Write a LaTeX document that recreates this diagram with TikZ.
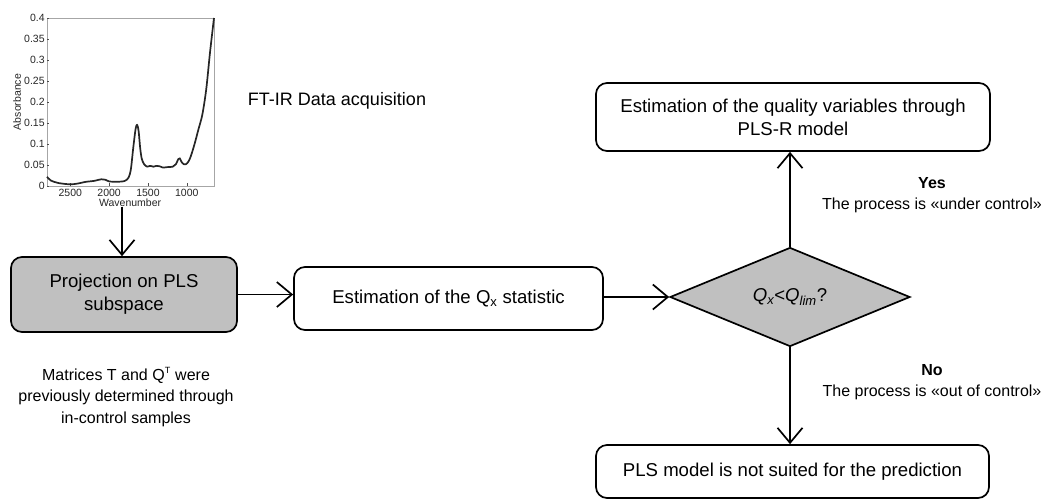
\documentclass[tikz,border=0pt]{standalone}
\usepackage{fontspec}
\setmainfont{Liberation Sans}
\usetikzlibrary{arrows.meta,shapes.geometric}
\definecolor{boxgray}{HTML}{C0C0C0}
\tikzset{
  box/.style={draw=black, line width=1.7pt, rounded corners=11pt, align=center, inner sep=0pt,
    font=\fontsize{18.6}{23}\selectfont},
  arr/.style={line width=1.7pt, -{Straight Barb[length=15pt,width=25pt,line width=1.7pt]}},
  lbl/.style={align=center, font=\fontsize{16}{21.5}\selectfont},
  tick/.style={font=\fontsize{10.5}{12}\selectfont, text=black!85},
}
\begin{document}
\begin{tikzpicture}[x=1pt,y=-1pt]
\useasboundingbox (0,0) rectangle (1043,499);

% ---- spectrum plot ----
\begin{scope}[xshift=47pt, yshift=-186pt, x=0.07767pt, y=420pt]
  \draw[gray!70, line width=0.6pt] (0,0) rectangle (2150,0.4);
  \foreach \v/\l in {0/0,0.05/0.05,0.1/0.1,0.15/0.15,0.2/0.2,0.25/0.25,0.3/0.3,0.35/0.35,0.4/0.4}{
    \draw[black!70, line width=0.5pt] (0,\v) -- (30,\v);
    \node[tick, anchor=east, inner sep=1pt] at (-15,\v) {\l};
  }
  \foreach \u/\l in {300/2500,800/2000,1300/1500,1800/1000}{
    \draw[black!70, line width=0.5pt] (\u,0) -- (\u,0.007);
    \node[tick, anchor=north, inner sep=1pt] at (\u,-0.004) {\l};
  }
  \node[tick, anchor=north, inner sep=1pt] at (1070,-0.027) {Wavenumber};
  \node[tick, rotate=90] at (-385,0.2) {Absorbance};
  \draw[black!85, line width=1.7pt, line join=round] plot[smooth, tension=0.5] coordinates {
    (0,0.022) (50,0.013) (150,0.007) (300,0.004) (400,0.006) (500,0.01) (600,0.012)
    (700,0.016) (750,0.015) (800,0.011) (900,0.01) (1000,0.012) (1050,0.02) (1080,0.04)
    (1110,0.09) (1140,0.135) (1160,0.146) (1180,0.13) (1200,0.09) (1220,0.065) (1250,0.052)
    (1290,0.046) (1330,0.048) (1370,0.046) (1410,0.048) (1450,0.047) (1490,0.044)
    (1550,0.045) (1620,0.046) (1660,0.052) (1690,0.064) (1710,0.066) (1730,0.058)
    (1760,0.052) (1790,0.052) (1820,0.058) (1850,0.07) (1900,0.1) (1950,0.135)
    (2000,0.17) (2050,0.23) (2100,0.32) (2150,0.4)};
\end{scope}
\coordinate (plotbottom) at (122,207);

\node[lbl, font=\fontsize{18}{22}\selectfont] (ftir) at (337,101) {FT-IR Data acquisition};

% ---- nodes ----
\node[box, fill=boxgray, minimum width=226pt, minimum height=75pt] (proj) at (124,294.5)
  {Projection on PLS\\subspace};
\node[box, minimum width=309pt, minimum height=63pt] (qx) at (448.5,298.5)
  {Estimation of the Q\textsubscript{x} statistic};
\node[draw=black, line width=1.7pt, fill=boxgray, shape=diamond, aspect=2.42, inner sep=0pt,
  minimum width=240pt, minimum height=99pt, font=\fontsize{18.6}{23}\selectfont] (dia) at (790,297)
  {\textit{Q\textsubscript{x}}<\textit{Q\textsubscript{lim}}?};
\node[box, minimum width=394pt, minimum height=68pt] (top) at (793,117)
  {Estimation of the quality variables through\\PLS-R model};
\node[box, minimum width=393pt, minimum height=53pt] (bot) at (792.5,471.5)
  {PLS model is not suited for the prediction};

\node[lbl] (matr) at (126,397)
  {Matrices T and Q\textsuperscript{\fontsize{9}{9}\selectfont T} were\\previously determined through\\in-control samples};
\node[lbl] (yes) at (932,195) {\textbf{Yes}\\The process is «under control»};
\node[lbl] (no) at (932,382) {\textbf{No}\\The process is «out of control»};

% ---- connectors ----
\draw[arr] (plotbottom) -- (plotbottom |- proj.north);
\draw[arr] (proj.east) -- (qx.west |- proj.east);
\draw[arr] (qx.east |- dia.west) -- (dia.west);
\draw[arr] (dia.north) -- (dia.north |- top.south);
\draw[arr] (dia.south) -- (dia.south |- bot.north);
\end{tikzpicture}
\end{document}
